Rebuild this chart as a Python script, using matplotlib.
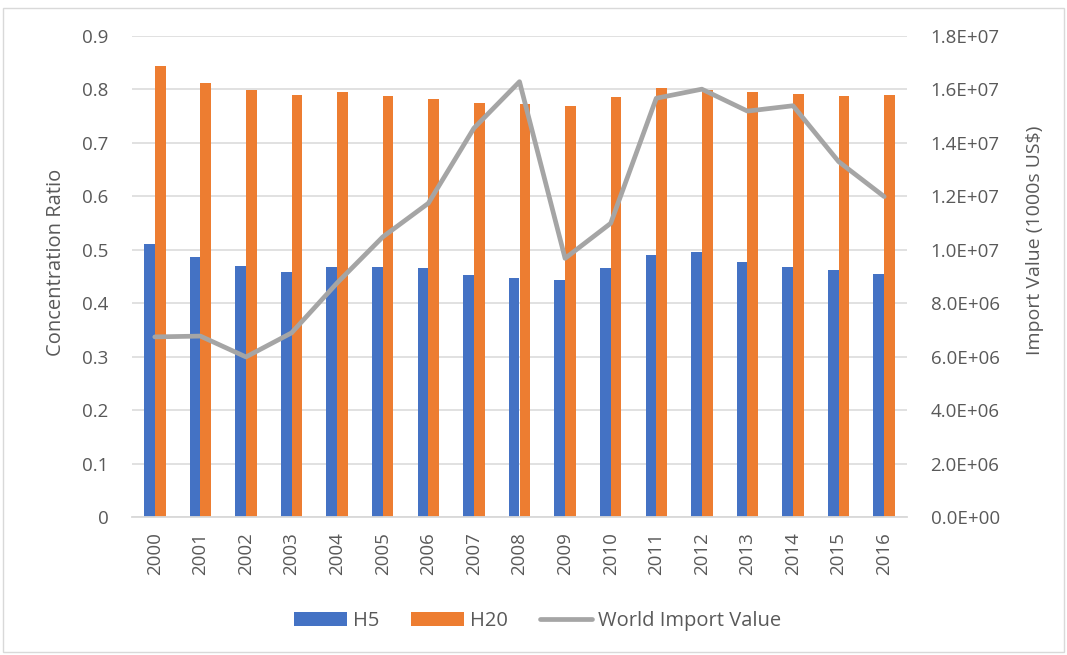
import numpy as np
import matplotlib
matplotlib.use('Agg')
import matplotlib.pyplot as plt
from matplotlib.patches import Rectangle
from matplotlib.ticker import FuncFormatter, MultipleLocator

# ── data ──────────────────────────────────────────────────────────────────────
years = ['2000', '2001', '2002', '2003', '2004', '2005', '2006', '2007', '2008',
         '2009', '2010', '2011', '2012', '2013', '2014', '2015', '2016']
h5 = [0.511, 0.486, 0.470, 0.459, 0.468, 0.468, 0.465, 0.452, 0.447,
      0.443, 0.466, 0.491, 0.495, 0.478, 0.468, 0.462, 0.455]
h20 = [0.843, 0.812, 0.799, 0.789, 0.795, 0.788, 0.783, 0.775, 0.772,
       0.769, 0.786, 0.803, 0.799, 0.795, 0.792, 0.788, 0.790]
world_import = [6.74e6, 6.77e6, 5.99e6, 6.89e6, 8.76e6, 1.048e7, 1.174e7, 1.455e7, 1.629e7,
                9.68e6, 1.099e7, 1.567e7, 1.601e7, 1.519e7, 1.539e7, 1.330e7, 1.199e7]

# ── style ─────────────────────────────────────────────────────────────────────
TXT = '#595959'
GRID = '#d9d9d9'
BLUE = '#4472c4'
ORANGE = '#ed7d31'
GREY = '#a5a5a5'

plt.rcParams.update({'font.family': ['Open Sans', 'DejaVu Sans'],
                     'font.size': 13.5, 'text.color': TXT,
                     'axes.labelcolor': TXT, 'xtick.color': TXT, 'ytick.color': TXT})

W, H = 1067, 655
fig = plt.figure(figsize=(W / 100, H / 100), dpi=100)
fig.patches.append(Rectangle((3 / W, 3 / H), 1 - 6 / W, 1 - 11 / H, transform=fig.transFigure,
                             fill=False, edgecolor='#d9d9d9', lw=1.0))

ax = fig.add_axes([132 / W, (H - 517) / H, 775 / W, (517 - 36) / H])
x = np.arange(len(years))
bw = 0.235
ax.bar(x - bw / 2, h5, bw, color=BLUE, label='H5', zorder=2)
ax.bar(x + bw / 2, h20, bw, color=ORANGE, label='H20', zorder=2)

ax.set_xlim(-0.5, len(years) - 0.5)
ax.set_ylim(0, 0.9)
ax.yaxis.set_major_locator(MultipleLocator(0.1))
ax.yaxis.set_major_formatter(FuncFormatter(lambda v, p: '0' if v == 0 else f'{v:.1f}'))
ax.set_xticks(x)
ax.set_xticklabels(years, rotation=90)
ax.tick_params(axis='both', length=0)
ax.tick_params(axis='y', pad=17)
ax.tick_params(axis='x', pad=11)
ax.grid(axis='y', color=GRID, lw=1.1, zorder=0)
ax.set_axisbelow(True)
for s in ['top', 'left', 'right']:
    ax.spines[s].set_visible(False)
ax.spines['bottom'].set_color(GRID)
ax.spines['bottom'].set_linewidth(1.3)
ax.set_ylabel('Concentration Ratio', fontsize=14.5)
ax.yaxis.set_label_coords(-0.085, 0.53)

ax2 = ax.twinx()
ax2.plot(x, world_import, color=GREY, lw=3.4, solid_joinstyle='round',
         solid_capstyle='round', label='World Import Value')
ax2.set_ylim(0, 1.8e7)
ax2.yaxis.set_major_locator(MultipleLocator(2e6))
ax2.yaxis.set_major_formatter(FuncFormatter(lambda v, p: f'{v:.1E}'))
ax2.tick_params(axis='y', length=0, pad=17)
for s in ax2.spines.values():
    s.set_visible(False)
ax2.set_ylabel('Import Value (1000s US$)', rotation=90, fontsize=14)
ax2.yaxis.set_label_coords(1.153, 0.575)

h1, l1 = ax.get_legend_handles_labels()
h2, l2 = ax2.get_legend_handles_labels()
fig.legend(h1 + h2, l1 + l2, loc='center', bbox_to_anchor=(538 / W, (H - 621) / H),
           ncol=3, frameon=False, handlelength=2.6, handleheight=0.72,
           handletextpad=0.3, columnspacing=1.6, fontsize=14.5)

fig.savefig('out.png', dpi=100)
